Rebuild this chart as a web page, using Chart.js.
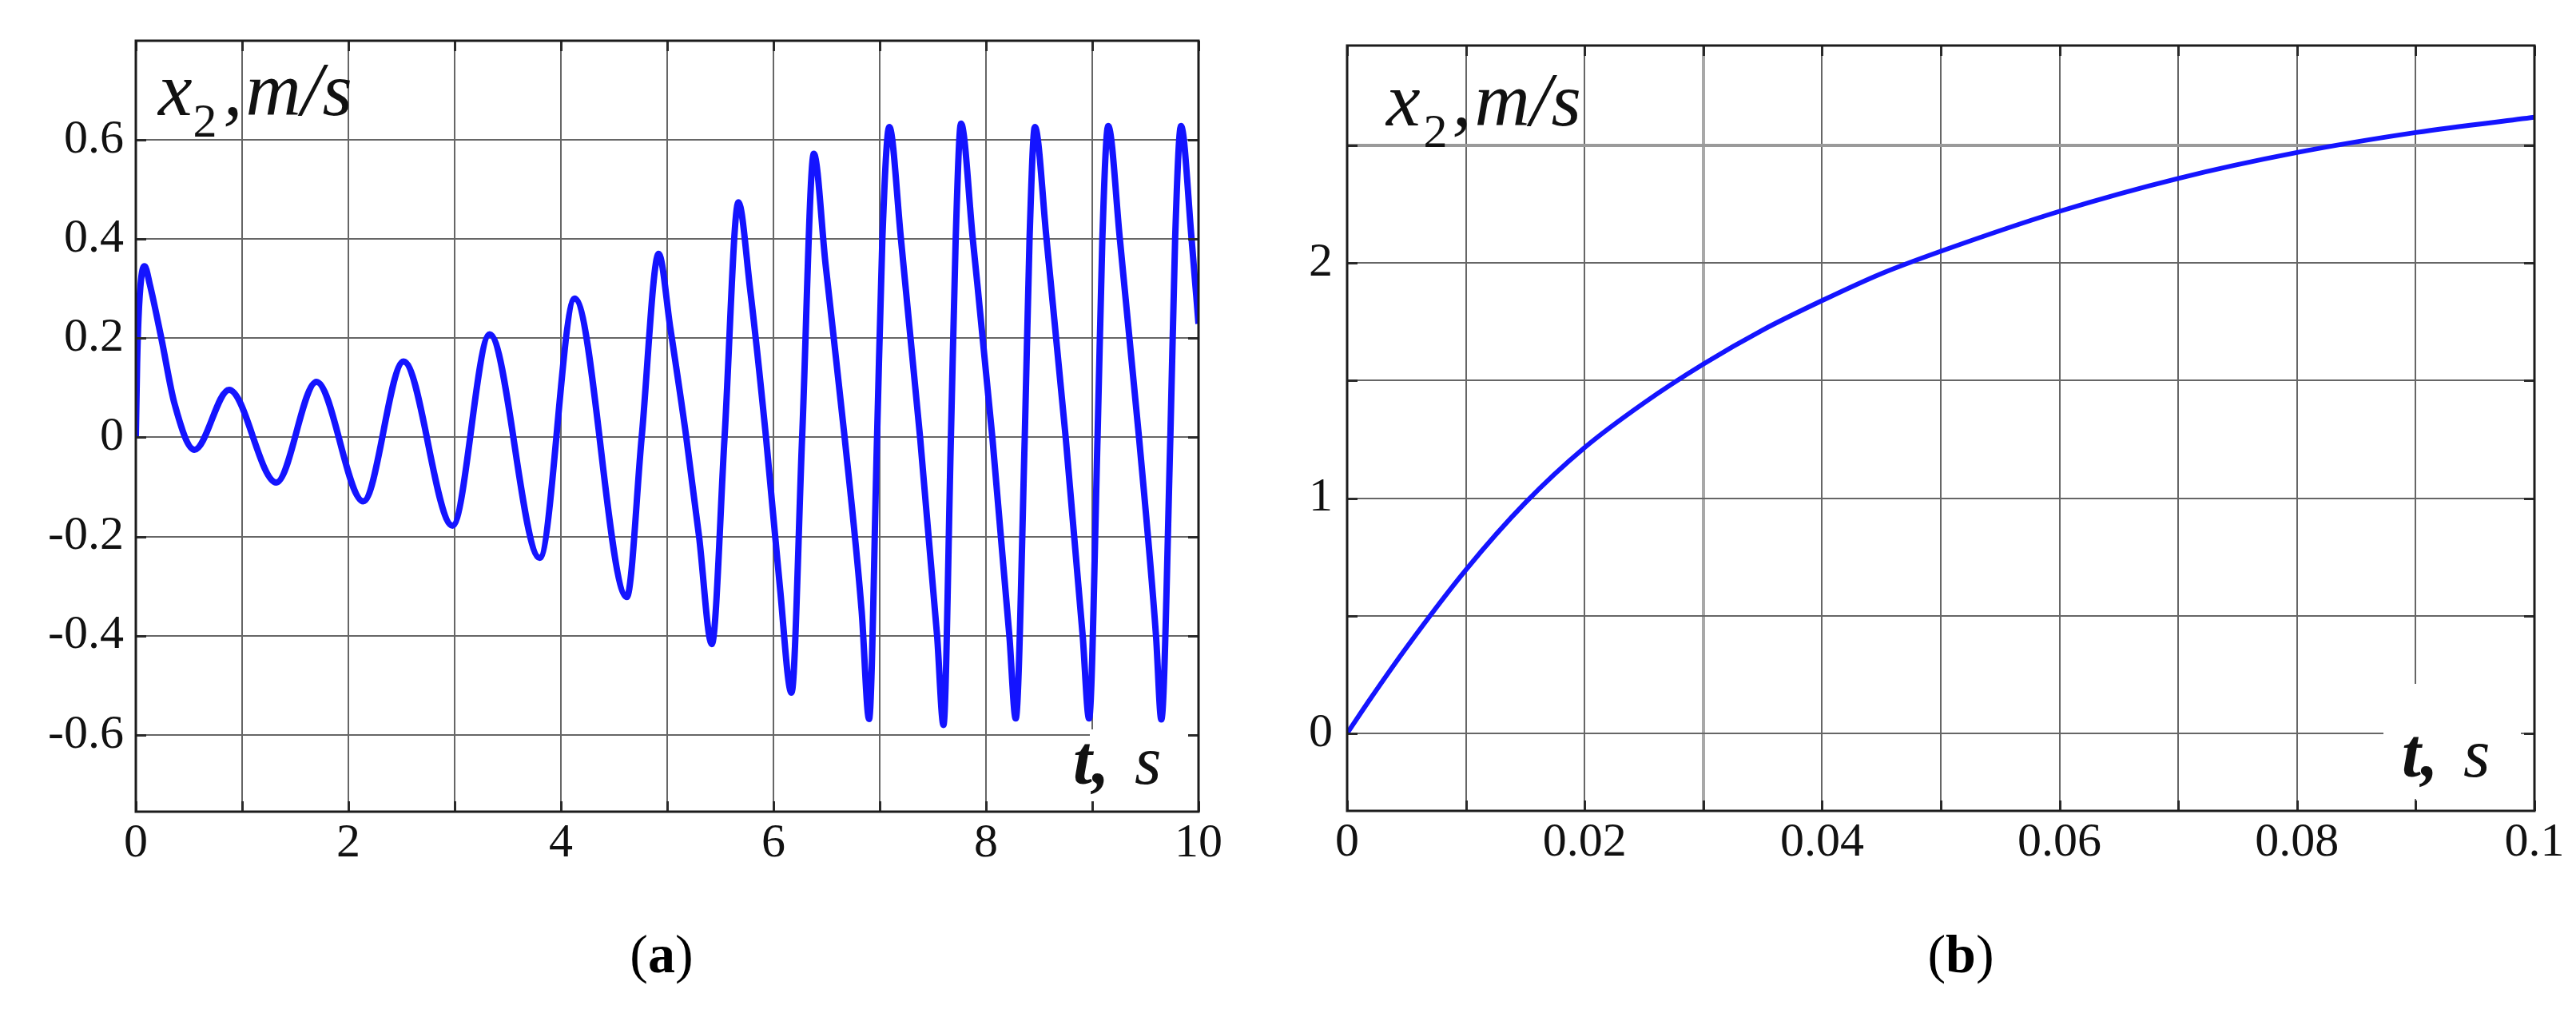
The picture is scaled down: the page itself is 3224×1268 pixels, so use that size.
<!DOCTYPE html>
<html>
<head>
<meta charset="utf-8">
<script src="https://cdn.jsdelivr.net/npm/chart.js@4.4.1/dist/chart.umd.min.js"></script>
<style>
  body { margin: 0; background: #fff; width: 3224px; height: 1268px; overflow: hidden; position: relative; }
  canvas { position: absolute; top: 0; }
  #chartA { left: 0; }
  #chartB { left: 1560px; }
  .cap { position: absolute; top: 1160px; font: 68px "Liberation Serif", serif; line-height: 68px; color: #000; transform: translateX(-50%); }
</style>
</head>
<body>
<canvas id="chartA" width="1560" height="1130"></canvas>
<canvas id="chartB" width="1664" height="1130"></canvas>
<div class="cap" style="left:828px">(<b>a</b>)</div>
<div class="cap" style="left:2454px">(<b>b</b>)</div>
<script>
// (a) velocity x2 over 0..10 s
const tA = [0, 0.012, 0.025, 0.05, 0.083, 0.13, 0.24, 0.364, 0.552, 0.878,
  1.322, 1.7, 2.14, 2.52, 2.98, 3.33, 3.8, 4.13, 4.62, 4.76,
  4.92, 5.03, 5.18, 5.3, 5.42, 5.54, 5.67, 5.78, 5.93, 6.06,
  6.17, 6.27, 6.38, 6.49, 6.67, 6.83, 6.9, 6.975, 7.025, 7.09,
  7.2, 7.38, 7.54, 7.6, 7.67, 7.715, 7.765, 7.876, 8.06, 8.22,
  8.28, 8.365, 8.41, 8.46, 8.57, 8.75, 8.91, 8.97, 9.05, 9.095,
  9.15, 9.26, 9.44, 9.6, 9.65, 9.735, 9.78, 9.835, 9.935, 10];
const vA = [0, 0.15, 0.24, 0.32, 0.345, 0.31, 0.2, 0.068, -0.025, 0.096,
  -0.091, 0.112, -0.129, 0.153, -0.178, 0.208, -0.243, 0.28, -0.322, 0,
  0.37, 0.22, 0, -0.2, -0.417, 0, 0.474, 0.3, 0, -0.3,
  -0.515, 0, 0.572, 0.35, 0, -0.35, -0.568, 0, 0.4, 0.626,
  0.4, 0, -0.4, -0.58, 0, 0.4, 0.633, 0.4, 0, -0.4,
  -0.567, 0, 0.4, 0.626, 0.4, 0, -0.4, -0.567, 0, 0.4,
  0.628, 0.4, 0, -0.4, -0.569, 0, 0.4, 0.628, 0.4, 0.229];
const xTicksA = [0, 1, 2, 3, 4, 5, 6, 7, 8, 9, 10];
const xLabelsA = ['0', '', '2', '', '4', '', '6', '', '8', '', '10'];
const yTicksA = [-0.6, -0.4, -0.2, 0, 0.2, 0.4, 0.6];
const yLabelsA = ['-0.6', '-0.4', '-0.2', '0', '0.2', '0.4', '0.6'];

// (b) velocity x2 over 0..0.1 s
const tB = [0, 0.002, 0.005, 0.01, 0.015, 0.02, 0.025, 0.03, 0.035, 0.04, 0.045, 0.05, 0.06, 0.07, 0.08, 0.09, 0.1];
const vB = [0, 0.15, 0.365, 0.695, 0.98, 1.215, 1.405, 1.57, 1.715, 1.84, 1.955, 2.05, 2.22, 2.36, 2.47, 2.555, 2.62];
const xTicksB = [0, 0.01, 0.02, 0.03, 0.04, 0.05, 0.06, 0.07, 0.08, 0.09, 0.1];
const xLabelsB = ['0', '', '0.02', '', '0.04', '', '0.06', '', '0.08', '', '0.1'];
const yTicksB = [0, 0.5, 1, 1.5, 2, 2.5];
const yLabelsB = ['0', '', '1', '', '2', ''];

const SERIF = '"Liberation Serif", "DejaVu Serif", serif';
const BLUE = '#1414ff';

function drawYTitle(ctx, x, y, size, gaps) {
  ctx.fillStyle = '#111';
  ctx.textAlign = 'left';
  ctx.textBaseline = 'alphabetic';
  ctx.font = 'italic ' + size + 'px ' + SERIF;
  ctx.fillText('x', x, y);
  let cx = x + ctx.measureText('x').width + gaps[0];
  ctx.font = Math.round(size * 0.62) + 'px ' + SERIF;
  ctx.fillText('2', cx, y + size * 0.28);
  cx += ctx.measureText('2').width + gaps[1];
  ctx.font = 'italic ' + size + 'px ' + SERIF;
  ctx.fillText(',', cx, y);
  cx += ctx.measureText(',').width + gaps[2];
  ctx.fillText('m/s', cx, y);
}

function decor(o) {
  return {
    id: 'decor',
    beforeDatasetsDraw(chart) {
      const ctx = chart.ctx, a = chart.chartArea;
      ctx.save();
      ctx.fillStyle = '#fff';
      ctx.fillRect(a.right + o.box[0], a.bottom + o.box[1], o.box[2], o.box[3]);
      ctx.restore();
    },
    afterDraw(chart) {
      const ctx = chart.ctx, a = chart.chartArea;
      const xs = chart.scales.x, ys = chart.scales.y;
      ctx.save();
      // inner tick stubs on all four sides
      ctx.strokeStyle = '#2a2a2a';
      ctx.lineWidth = 3;
      ctx.beginPath();
      xs.ticks.forEach(t => {
        const px = Math.round(xs.getPixelForValue(t.value)) + 0.5;
        ctx.moveTo(px, a.top); ctx.lineTo(px, a.top + 13);
        ctx.moveTo(px, a.bottom); ctx.lineTo(px, a.bottom - 13);
      });
      ys.ticks.forEach(t => {
        const py = Math.round(ys.getPixelForValue(t.value)) + 0.5;
        ctx.moveTo(a.left, py); ctx.lineTo(a.left + 13, py);
        ctx.moveTo(a.right, py); ctx.lineTo(a.right - 13, py);
      });
      ctx.stroke();
      // frame
      ctx.strokeStyle = '#1c1c1c';
      ctx.lineWidth = 3;
      ctx.strokeRect(a.left, a.top, a.right - a.left, a.bottom - a.top);
      // axis titles inside the plot
      drawYTitle(ctx, a.left + o.yt[0], a.top + o.yt[1], o.yt[2], o.yt[3]);
      ctx.fillStyle = '#111';
      ctx.font = 'italic bold 86px ' + SERIF;
      ctx.fillText('t,', a.right + o.tt[0], a.bottom + o.tt[1]);
      ctx.font = 'italic 86px ' + SERIF;
      ctx.fillText('s', a.right + o.tt[2], a.bottom + o.tt[1]);
      ctx.restore();
    }
  };
}

function makeChart(id, t, v, xt, xl, yt, yl, yMin, yMax, yW, xH, pad, lw, yPad, special, deco) {
  const pts = t.map((x, i) => ({ x: x, y: v[i] }));
  return new Chart(document.getElementById(id), {
    type: 'line',
    data: {
      datasets: [{
        data: pts,
        borderColor: BLUE,
        borderWidth: lw,
        pointRadius: 0,
        fill: false,
        cubicInterpolationMode: 'monotone'
      }]
    },
    options: {
      responsive: false,
      animation: false,
      events: [],
      layout: { padding: pad },
      plugins: { legend: { display: false }, tooltip: { enabled: false } },
      scales: {
        x: {
          type: 'linear',
          min: xt[0],
          max: xt[xt.length - 1],
          afterBuildTicks: s => { s.ticks = xt.map(val => ({ value: val })); },
          afterFit: s => { s.height = xH; },
          border: { display: false },
          grid: {
            drawTicks: false,
            color: c => (c.tick && special.x === c.tick.value) ? '#a8a8a8' : '#666666',
            lineWidth: c => (c.tick && special.x === c.tick.value) ? 4 : 2
          },
          ticks: {
            autoSkip: false,
            maxRotation: 0,
            padding: 4,
            color: '#111',
            font: { family: SERIF, size: 60 },
            callback: (val, i) => xl[i]
          }
        },
        y: {
          type: 'linear',
          min: yMin,
          max: yMax,
          afterBuildTicks: s => { s.ticks = yt.map(val => ({ value: val })); },
          afterFit: s => { s.width = yW; },
          border: { display: false },
          grid: {
            drawTicks: false,
            color: c => (c.tick && special.y === c.tick.value) ? '#9a9a9a' : '#666666',
            lineWidth: c => (c.tick && special.y === c.tick.value) ? 4 : 2
          },
          ticks: {
            autoSkip: false,
            padding: yPad,
            color: '#111',
            font: { family: SERIF, size: 60 },
            callback: (val, i) => yl[i]
          }
        }
      }
    },
    plugins: [decor(deco)]
  });
}

makeChart('chartA', tA, vA, xTicksA, xLabelsA, yTicksA, yLabelsA, -0.755, 0.8,
  170, 114, { left: 0, top: 41, right: 60, bottom: 0 }, 8, 15, {},
  { box: [-136, -103, 126, 95], yt: [28, 93, 96, [1, 8, 4]], tt: [-157, -35, -80] });

makeChart('chartB', tB, vB, xTicksB, xLabelsB, yTicksB, yLabelsB, -0.33, 2.925,
  126, 115, { left: 0, top: 57, right: 52, bottom: 0 }, 6, 18, { x: 0.03, y: 2.5 },
  { box: [-189, -159, 172, 144], yt: [49, 100, 96, [4, 6, 4]], tt: [-166, -43, -89] });
</script>
</body>
</html>
